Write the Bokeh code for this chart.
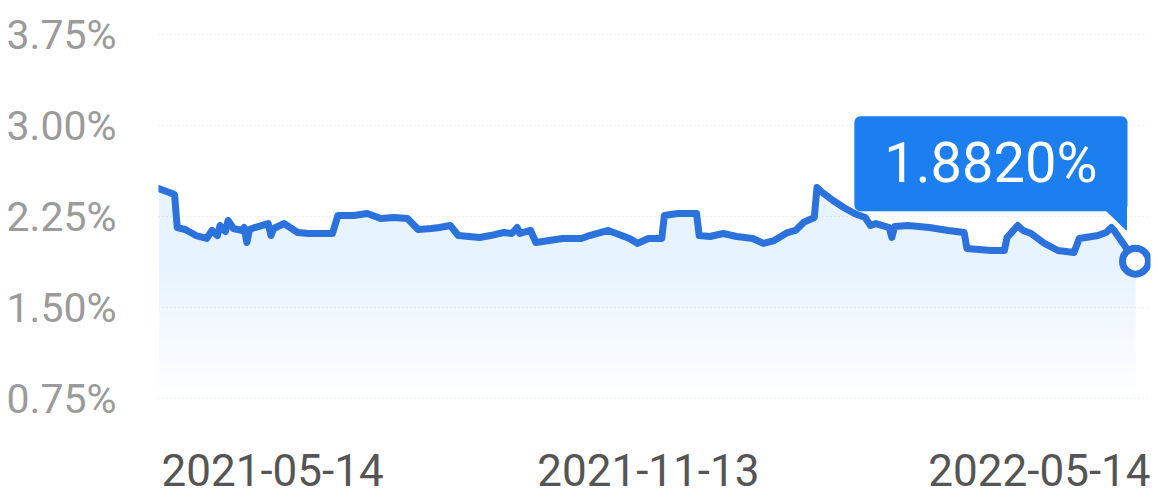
import numpy as np
import pandas as pd
from bokeh.plotting import figure
from bokeh.models import Range1d, FixedTicker, Label, ColumnDataSource
from bokeh.embed import file_html
from bokeh.resources import INLINE
from bokeh.core.properties import value

# ---------------- data ----------------
start_date = "2021-05-14"
day_offsets = [0, 5, 6, 7, 10, 14, 18, 20, 22, 23, 25, 26, 28, 31, 32, 33, 34, 36, 41, 42,
               43, 47, 52, 56, 65, 67, 73, 78, 83, 88, 93, 97, 102, 105, 109, 112, 120, 124,
               129, 132, 134, 135, 139, 141, 146, 151, 158, 161, 168, 171, 176, 179, 183,
               188, 189, 194, 201, 202, 206, 211, 216, 222, 226, 230, 235, 238, 241, 245,
               246, 248, 252, 256, 260, 264, 266, 268, 273, 274, 275, 280, 288, 295, 301,
               302, 311, 316, 317, 321, 323, 326, 331, 336, 342, 344, 351, 354, 356, 357, 365]
rates = [2.481, 2.440, 2.430, 2.159, 2.143, 2.093, 2.069, 2.135, 2.093, 2.176, 2.126, 2.217,
         2.151, 2.135, 2.159, 2.036, 2.143, 2.159, 2.192, 2.093, 2.151, 2.192, 2.118, 2.110,
         2.110, 2.258, 2.258, 2.275, 2.234, 2.242, 2.234, 2.143, 2.151, 2.159, 2.176, 2.093,
         2.077, 2.093, 2.118, 2.110, 2.159, 2.110, 2.135, 2.036, 2.052, 2.069, 2.069, 2.093,
         2.135, 2.110, 2.069, 2.028, 2.069, 2.069, 2.258, 2.275, 2.275, 2.093, 2.085, 2.110,
         2.085, 2.069, 2.028, 2.052, 2.118, 2.135, 2.201, 2.242, 2.489, 2.448, 2.382, 2.324,
         2.275, 2.242, 2.176, 2.192, 2.159, 2.077, 2.168, 2.176, 2.159, 2.135, 2.118, 1.986,
         1.970, 1.970, 2.077, 2.176, 2.135, 2.110, 2.028, 1.970, 1.953, 2.069, 2.093, 2.118,
         2.159, 2.135, 1.882]
y_ticks = [0.75, 1.50, 2.25, 3.00, 3.75]
y_tick_labels = ["0.75%", "1.50%", "2.25%", "3.00%", "3.75%"]
x_tick_dates = ["2021-05-14", "2021-11-13", "2022-05-14"]
last_label = "1.8820%"

# ---------------- styles ----------------
LINE = "#2c72dc"
BOX = "#1d7ef0"
W, H = 1158, 499
LEFT, RIGHT = 158, 8
FRAME_W = W - LEFT - RIGHT
PX_LAST = 977.0        # px between first and last point
PX_PER_PCT = 91 / 0.75  # vertical scale
TOP_PX = 34             # px from top to the 3.75 line

dates = pd.to_datetime(start_date) + pd.to_timedelta(day_offsets, unit="D")
src = ColumnDataSource(dict(x=dates, y=rates))

t0 = pd.Timestamp(start_date).value / 1e6
span_days = day_offsets[-1] - day_offsets[0]
ms_per_px = span_days * 86400000.0 / PX_LAST
x_start = t0
x_end = t0 + FRAME_W * ms_per_px
pct_per_px = 1.0 / PX_PER_PCT
y_end = y_ticks[-1] + TOP_PX * pct_per_px
y_start = y_end - H * pct_per_px

p = figure(width=W, height=H, output_backend="svg", toolbar_location=None,
           x_axis_type="datetime", x_axis_location=None,
           x_range=Range1d(x_start, x_end), y_range=Range1d(y_start, y_end),
           min_border_left=LEFT, min_border_right=RIGHT, min_border_top=0, min_border_bottom=0,
           outline_line_color=None, background_fill_color="white", border_fill_color="white")

# y axis
p.yaxis.ticker = FixedTicker(ticks=y_ticks)
p.yaxis.major_label_overrides = {float(k): v for k, v in zip(y_ticks, y_tick_labels)}
p.yaxis.axis_line_color = None
p.yaxis.major_tick_line_color = None
p.yaxis.minor_tick_line_color = None
p.yaxis.major_label_standoff = 36
p.yaxis.major_label_text_font = "Roboto"
p.yaxis.major_label_text_font_size = "41px"
p.yaxis.major_label_text_color = "#9b9b9b"

p.xgrid.visible = False
p.ygrid.ticker = FixedTicker(ticks=y_ticks)
p.ygrid.grid_line_color = "#e4e4e4"
p.ygrid.grid_line_dash = "1 3"
p.ygrid.grid_line_width = 1

# gradient-like area fill
for b in np.linspace(0.75, 1.8, 12):
    p.varea(x="x", y1=b, y2="y", source=src, fill_color="#2f80ed", fill_alpha=0.009)

p.line(x="x", y="y", source=src, line_color=LINE, line_width=7,
       line_join="round", line_cap="round")

# tooltip box
last_x = dates[-1].value / 1e6
last_y = rates[-1]
tail_px = [(-33, 54), (-9, 54), (-9, 31)]
p.patch(x=[last_x + dx * ms_per_px for dx, dy in tail_px],
        y=[last_y + dy * pct_per_px for dx, dy in tail_px],
        fill_color=BOX, line_color=BOX, line_width=1)

lab = Label(x=last_x, y=last_y, x_offset=-8, y_offset=50, text=last_label,
            text_align="right", text_baseline="bottom", text_color="white",
            text_font="Roboto", text_font_size="56px",
            background_fill_color=BOX, border_radius=6,
            padding=dict(left=30, right=30, top=14, bottom=15))
p.add_layout(lab)

p.scatter(x=[last_x], y=[last_y], size=26, fill_color="white",
          line_color=LINE, line_width=7)

# x labels
label_center_px = 469
xl = ColumnDataSource(dict(
    x=pd.to_datetime(x_tick_dates),
    y=[y_ticks[0] - (label_center_px - (TOP_PX + 4 * 91)) * pct_per_px] * len(x_tick_dates),
    text=x_tick_dates,
    align=["left", "center", "right"],
    xo=[3, 0, 15],
))
p.text(x="x", y="y", text="text", source=xl, text_align="align",
       x_offset="xo", text_baseline="middle",
       text_font=value("Roboto"), text_font_size="44px", text_color="#555555")

open("out.html", "w").write(file_html(p, INLINE))
